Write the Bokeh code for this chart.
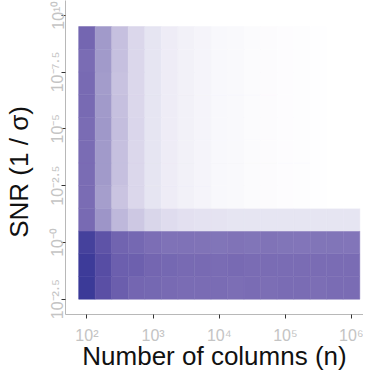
import numpy as np
from bokeh.plotting import figure
from bokeh.models import ColumnDataSource, LinearColorMapper, FixedTicker
from bokeh.embed import file_html
from bokeh.resources import INLINE

# ---- data ----
log_n = [2.0, 2.25, 2.5, 2.75, 3.0, 3.25, 3.5, 3.75, 4.0, 4.25, 4.5, 4.75, 5.0, 5.25, 5.5, 5.75, 6.0]
log_snr = [-2, -1, 0, 1, 2, 3, 4, 5, 6, 7, 8, 9]
values = [
    [1.00, 0.85, 0.77, 0.73, 0.72, 0.71, 0.70, 0.70, 0.70, 0.69, 0.70, 0.69, 0.70, 0.70, 0.69, 0.70, 0.70],
    [0.99, 0.86, 0.765, 0.76, 0.73, 0.72, 0.71, 0.71, 0.70, 0.71, 0.70, 0.70, 0.70, 0.70, 0.70, 0.70, 0.70],
    [0.95, 0.83, 0.74, 0.72, 0.69, 0.67, 0.67, 0.665, 0.66, 0.665, 0.66, 0.665, 0.66, 0.655, 0.66, 0.66, 0.655],
    [0.71, 0.50, 0.33, 0.25, 0.19, 0.16, 0.14, 0.13, 0.125, 0.12, 0.12, 0.12, 0.12, 0.12, 0.12, 0.12, 0.12],
    [0.70, 0.46, 0.27, 0.18, 0.12, 0.085, 0.065, 0.05, 0.035, 0.028, 0.022, 0.017, 0.013, 0.009, 0.006, 0.003, 0.0],
    [0.70, 0.48, 0.29, 0.18, 0.12, 0.085, 0.065, 0.05, 0.035, 0.028, 0.022, 0.017, 0.013, 0.009, 0.006, 0.003, 0.0],
    [0.70, 0.48, 0.29, 0.18, 0.12, 0.085, 0.065, 0.05, 0.035, 0.028, 0.022, 0.017, 0.013, 0.009, 0.006, 0.003, 0.0],
    [0.70, 0.49, 0.30, 0.185, 0.12, 0.085, 0.065, 0.05, 0.035, 0.028, 0.022, 0.017, 0.013, 0.009, 0.006, 0.003, 0.0],
    [0.71, 0.48, 0.29, 0.18, 0.12, 0.085, 0.065, 0.05, 0.035, 0.028, 0.022, 0.017, 0.013, 0.009, 0.006, 0.003, 0.0],
    [0.71, 0.47, 0.28, 0.18, 0.12, 0.085, 0.065, 0.05, 0.035, 0.028, 0.022, 0.017, 0.013, 0.009, 0.006, 0.003, 0.0],
    [0.70, 0.48, 0.29, 0.18, 0.12, 0.085, 0.065, 0.05, 0.035, 0.028, 0.022, 0.017, 0.013, 0.009, 0.006, 0.003, 0.0],
    [0.73, 0.48, 0.29, 0.18, 0.12, 0.085, 0.065, 0.05, 0.035, 0.028, 0.022, 0.017, 0.013, 0.009, 0.006, 0.003, 0.0],
]
x_ticks = [1e2, 1e3, 1e4, 1e5, 1e6]
x_tick_labels = ["10\u00b2", "10\u00b3", "10\u2074", "10\u2075", "10\u2076"]
y_ticks = [10 ** -2.5, 1.0, 10 ** 2.5, 10 ** 5.0, 10 ** 7.5, 10 ** 10.0]
y_tick_labels = ["10\u207b\u00b2\u00b7\u2075", "10\u207b\u2070", "10\u207b\u00b2\u00b7\u2075",
                 "10\u207b\u2075", "10\u207b\u2077\u00b7\u2075", "10\u00b9\u2070"]
x_title = "Number of columns (n)"
y_title = "SNR\u00a0(1\u00a0/\u00a0\u03c3)"

# ---- colour palette (style) ----
anchors = [(0.00, "#FFFFFF"), (0.12, "#E6E4F2"), (0.28, "#C8C2E0"), (0.47, "#A39CCB"),
           (0.70, "#7A6CB4"), (0.85, "#5A4FA5"), (1.00, "#3B3A98")]
def hex2rgb(h):
    return [int(h[i:i + 2], 16) for i in (1, 3, 5)]
palette = []
for k in range(256):
    t = k / 255
    for (t0, c0), (t1, c1) in zip(anchors[:-1], anchors[1:]):
        if t0 <= t <= t1:
            f = (t - t0) / (t1 - t0)
            a, b = hex2rgb(c0), hex2rgb(c1)
            rgb = [round(a[j] + (b[j] - a[j]) * f) for j in range(3)]
            palette.append("#%02x%02x%02x" % tuple(rgb))
            break
mapper = LinearColorMapper(palette=palette, low=0.0, high=1.0)

dx = log_n[1] - log_n[0]
dy = log_snr[1] - log_snr[0]
L, R, B, T, V = [], [], [], [], []
for i, ys in enumerate(log_snr):
    for j, xs in enumerate(log_n):
        L.append(10 ** (xs - dx / 2)); R.append(10 ** (xs + dx / 2))
        B.append(10 ** (ys - dy / 2)); T.append(10 ** (ys + dy / 2))
        V.append(values[i][j])
src = ColumnDataSource(dict(left=L, right=R, bottom=B, top=T, v=V))

p = figure(width=363, height=375, x_axis_type="log", y_axis_type="log",
           x_range=(10 ** 1.676, 10 ** 6.181), y_range=(10 ** -3.173, 10 ** 10.647),
           output_backend="svg", toolbar_location=None,
           min_border_left=59, min_border_right=0, min_border_top=0, min_border_bottom=61)
p.quad(left="left", right="right", bottom="bottom", top="top", source=src,
       fill_color={"field": "v", "transform": mapper},
       line_color={"field": "v", "transform": mapper}, line_width=0.5)

p.outline_line_color = None
p.grid.visible = False
p.background_fill_color = "white"
p.border_fill_color = "white"

FONT = "Liberation Sans"
for ax in (p.xaxis[0], p.yaxis[0]):
    ax.axis_line_color = "#B8B8B8"
    ax.axis_line_width = 1
    ax.major_tick_line_color = "#333333"
    ax.major_tick_out = 4
    ax.major_tick_in = 0
    ax.minor_tick_line_color = None
    ax.major_label_text_font = FONT
    ax.major_label_text_font_size = "16px"
    ax.major_label_text_color = "#C4C4C4"
    ax.axis_label_text_font = FONT
    ax.axis_label_text_font_size = "26px"
    ax.axis_label_text_font_style = "normal"
    ax.axis_label_text_color = "#111111"

p.xaxis[0].ticker = FixedTicker(ticks=x_ticks)
p.xaxis[0].major_label_overrides = {t: s for t, s in zip(x_ticks, x_tick_labels)}
p.xaxis[0].major_label_standoff = 8
p.xaxis[0].axis_label = x_title
p.xaxis[0].axis_label_standoff = -6

p.yaxis[0].ticker = FixedTicker(ticks=y_ticks)
p.yaxis[0].major_label_overrides = {t: s for t, s in zip(y_ticks, y_tick_labels)}
p.yaxis[0].major_label_orientation = "vertical"
p.yaxis[0].axis_label = y_title + "\u00a0" * 4
p.yaxis[0].major_label_standoff = -5
p.yaxis[0].axis_label_standoff = 13

open("out.html", "w").write(file_html(p, INLINE))
